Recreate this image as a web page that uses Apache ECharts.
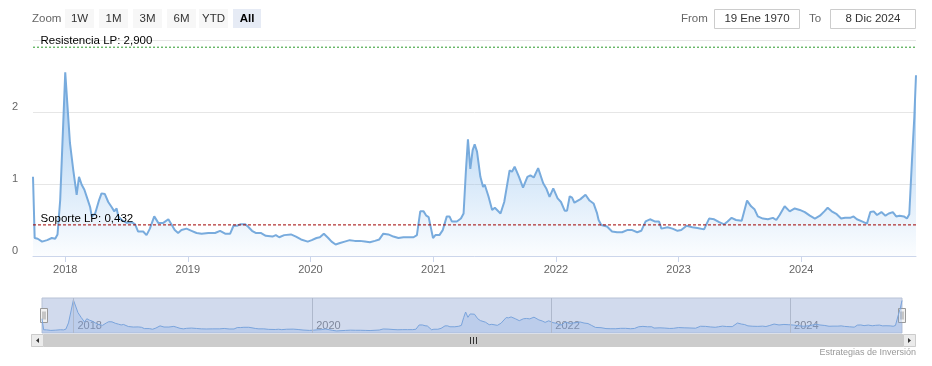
<!DOCTYPE html>
<html>
<head>
<meta charset="utf-8">
<script src="https://cdn.jsdelivr.net/npm/echarts@6/dist/echarts.min.js"></script>
<style>
html,body{margin:0;padding:0;background:#fff;}
#chart{width:932px;height:366px;}
</style>
</head>
<body>
<div id="chart"></div>
<script>
// ---- data ----
const dates = [
'2017-09-27','2017-10-02','2017-10-11','2017-10-24','2017-11-08','2017-11-22','2017-12-02','2017-12-09','2017-12-17',
'2018-01-01','2018-01-15','2018-01-25','2018-02-04','2018-02-11','2018-02-19','2018-02-27','2018-03-09','2018-03-16',
'2018-03-21','2018-03-31','2018-04-12','2018-04-19','2018-04-29','2018-05-09','2018-05-19','2018-05-27','2018-06-03',
'2018-06-08','2018-06-18','2018-07-03','2018-07-18','2018-07-28','2018-08-06','2018-08-21','2018-08-31','2018-09-10',
'2018-09-23','2018-10-05','2018-10-20','2018-11-04','2018-11-13','2018-11-23','2018-12-03','2018-12-13','2018-12-28',
'2019-01-12','2019-01-27','2019-02-11','2019-03-03','2019-03-23','2019-04-07','2019-04-22','2019-05-07','2019-05-17',
'2019-05-27','2019-06-06','2019-06-21','2019-07-01','2019-07-11','2019-07-22','2019-08-06','2019-08-21','2019-09-10',
'2019-09-20','2019-09-30','2019-10-15','2019-11-04','2019-11-19','2019-12-04','2019-12-24','2020-01-05','2020-01-19',
'2020-01-29','2020-02-10','2020-02-23','2020-03-04','2020-03-16','2020-03-29','2020-04-12','2020-04-27','2020-05-12',
'2020-05-27','2020-06-11','2020-06-26','2020-07-11','2020-07-24','2020-08-05','2020-08-20','2020-09-04','2020-09-19',
'2020-10-04','2020-10-19','2020-11-03','2020-11-13','2020-11-23','2020-12-03','2020-12-11','2020-12-18','2020-12-31',
'2021-01-07','2021-01-19','2021-01-29','2021-02-10','2021-02-18','2021-02-25','2021-03-12','2021-03-24','2021-04-01',
'2021-04-08','2021-04-14','2021-04-21','2021-04-28','2021-05-04','2021-05-11','2021-05-21','2021-05-29','2021-06-03',
'2021-06-14','2021-06-25','2021-07-03','2021-07-20','2021-07-31','2021-08-16','2021-08-23','2021-08-31','2021-09-13',
'2021-09-25','2021-10-08','2021-10-17','2021-10-27','2021-11-09','2021-11-24','2021-12-04','2021-12-13','2021-12-24',
'2022-01-06','2022-01-16','2022-01-27','2022-02-03','2022-02-11','2022-02-18','2022-02-25','2022-03-15','2022-03-30',
'2022-04-11','2022-04-23','2022-05-03','2022-05-08','2022-05-16','2022-06-02','2022-06-17','2022-07-02','2022-07-17',
'2022-08-01','2022-08-16','2022-08-31','2022-09-12','2022-09-25','2022-10-08','2022-10-22','2022-11-04','2022-11-11',
'2022-11-29','2022-12-14','2022-12-29','2023-01-09','2023-01-25','2023-02-11','2023-02-26','2023-03-18','2023-04-02',
'2023-04-17','2023-05-02','2023-05-17','2023-05-27','2023-06-08','2023-06-21','2023-07-08','2023-07-24','2023-08-05',
'2023-08-15','2023-08-25','2023-09-09','2023-09-24','2023-10-09','2023-10-19','2023-10-29','2023-11-13','2023-11-28',
'2023-12-13','2023-12-28','2024-01-12','2024-01-27','2024-02-11','2024-02-26','2024-03-10','2024-03-20','2024-04-01',
'2024-04-16','2024-04-29','2024-05-11','2024-05-26','2024-06-05','2024-06-15','2024-06-30','2024-07-15','2024-07-25',
'2024-08-04','2024-08-14','2024-08-27','2024-09-08','2024-09-18','2024-09-30','2024-10-10','2024-10-20','2024-11-02',
'2024-11-11','2024-11-18','2024-11-26','2024-12-03','2024-12-08'
];
const values = [
1.10,0.25,0.24,0.20,0.22,0.25,0.24,0.30,0.78,
2.55,1.57,1.19,0.85,1.10,0.99,0.92,0.78,0.68,
0.55,0.59,0.78,0.87,0.86,0.75,0.68,0.62,0.66,
0.55,0.50,0.46,0.47,0.44,0.34,0.34,0.29,0.38,
0.55,0.46,0.46,0.51,0.44,0.36,0.32,0.36,0.38,
0.35,0.32,0.31,0.32,0.32,0.35,0.31,0.31,0.42,
0.42,0.44,0.44,0.40,0.35,0.32,0.32,0.28,0.27,
0.29,0.26,0.29,0.30,0.27,0.23,0.20,0.22,0.25,
0.26,0.31,0.25,0.20,0.16,0.18,0.20,0.22,0.21,
0.21,0.20,0.19,0.21,0.23,0.31,0.30,0.27,0.25,
0.26,0.26,0.26,0.29,0.62,0.62,0.56,0.54,0.25,
0.29,0.29,0.36,0.55,0.55,0.48,0.48,0.52,0.59,
1.19,1.62,1.21,1.47,1.55,1.45,1.10,0.96,0.99,
0.83,0.64,0.67,0.59,0.75,1.19,1.17,1.24,1.10,
0.95,1.10,1.12,1.09,1.22,1.01,0.93,0.82,0.94,
0.80,0.75,0.63,0.63,0.83,0.81,0.74,0.79,0.85,
0.77,0.73,0.60,0.50,0.43,0.41,0.34,0.33,0.33,
0.36,0.36,0.33,0.35,0.48,0.51,0.48,0.48,0.38,
0.40,0.38,0.35,0.36,0.42,0.40,0.39,0.37,0.52,
0.51,0.47,0.44,0.48,0.53,0.50,0.49,0.77,0.69,
0.65,0.55,0.52,0.51,0.53,0.50,0.57,0.69,0.62,
0.66,0.64,0.61,0.56,0.52,0.56,0.62,0.67,0.62,
0.58,0.52,0.53,0.53,0.55,0.51,0.48,0.45,0.61,
0.62,0.57,0.61,0.56,0.59,0.61,0.55,0.56,0.55,
0.52,0.58,1.33,1.93,2.51
];
const yTicks = [0, 1, 2, 3];
const yLabelShown = ['0', '1', '2', ''];
const resistanceLevel = 2.9;
const supportLevel = 0.432;
const resistanceLabel = 'Resistencia LP: 2,900';
const supportLabel = 'Soporte LP: 0,432';
const navigatorGridYears = ['2018-01-01', '2020-01-01', '2022-01-01', '2024-01-01'];
const zoomButtons = ['1W', '1M', '3M', '6M', 'YTD', 'All'];
const fromText = '19 Ene 1970';
const toText = '8 Dic 2024';
const creditText = 'Estrategias de Inversión';

// ---- chart ----
const FONT = '"Liberation Sans", Arial, sans-serif';
const seriesData = dates.map((d, i) => [d, values[i]]);
const firstDate = dates[0];
const lastDate = dates[dates.length - 1];
const YEAR = 365.25 * 86400000;

const chart = echarts.init(document.getElementById('chart'), null, {renderer: 'canvas'});

const graphics = [];
graphics.push({type: 'text', x: 32, y: 18.5, style: {text: 'Zoom', fill: '#666', font: '11.5px ' + FONT, textVerticalAlign: 'middle'}});
const btnX = [65, 99, 133, 167, 199, 233];
zoomButtons.forEach((b, i) => {
  const sel = b === 'All';
  graphics.push({type: 'rect', shape: {x: btnX[i], y: 9, width: sel ? 28 : 29, height: 19, r: 0},
    style: {fill: sel ? '#e6ebf5' : '#f7f7f7'}});
  graphics.push({type: 'text', x: btnX[i] + (sel ? 14 : 14.5), y: 18.5,
    style: {text: b, fill: sel ? '#000' : '#333', font: (sel ? 'bold ' : '') + '11.5px ' + FONT,
      textAlign: 'center', textVerticalAlign: 'middle'}});
});
graphics.push({type: 'text', x: 681, y: 18.5, style: {text: 'From', fill: '#666', font: '11.5px ' + FONT, textVerticalAlign: 'middle'}});
graphics.push({type: 'rect', shape: {x: 714.5, y: 9.5, width: 85, height: 19}, style: {fill: '#fff', stroke: '#cccccc', lineWidth: 1}});
graphics.push({type: 'text', x: 757, y: 19, style: {text: fromText, fill: '#333', font: '11.5px ' + FONT, textAlign: 'center', textVerticalAlign: 'middle'}});
graphics.push({type: 'text', x: 809, y: 18.5, style: {text: 'To', fill: '#666', font: '11.5px ' + FONT, textVerticalAlign: 'middle'}});
graphics.push({type: 'rect', shape: {x: 830.5, y: 9.5, width: 85, height: 19}, style: {fill: '#fff', stroke: '#cccccc', lineWidth: 1}});
graphics.push({type: 'text', x: 873, y: 19, style: {text: toText, fill: '#333', font: '11.5px ' + FONT, textAlign: 'center', textVerticalAlign: 'middle'}});

// scrollbar
graphics.push({type: 'rect', shape: {x: 31, y: 334, width: 885, height: 13}, style: {fill: '#f2f2f2'}});
graphics.push({type: 'rect', shape: {x: 44, y: 334, width: 859, height: 13}, style: {fill: '#cccccc'}});
graphics.push({type: 'rect', shape: {x: 31.5, y: 334.5, width: 12, height: 12}, style: {fill: '#ebebeb', stroke: '#cccccc'}});
graphics.push({type: 'rect', shape: {x: 903.5, y: 334.5, width: 12, height: 12}, style: {fill: '#ebebeb', stroke: '#cccccc'}});
graphics.push({type: 'polygon', shape: {points: [[39, 338], [39, 343], [36, 340.5]]}, style: {fill: '#333'}});
graphics.push({type: 'polygon', shape: {points: [[908, 338], [908, 343], [911, 340.5]]}, style: {fill: '#333'}});
[470.5, 473.5, 476.5].forEach(x => graphics.push({type: 'line', shape: {x1: x, y1: 337, x2: x, y2: 344}, style: {stroke: '#333', lineWidth: 1}}));
// navigator handles
[[40.5, 308.5], [898.5, 308.5]].forEach(([x, y]) => {
  graphics.push({type: 'rect', shape: {x: x, y: y, width: 7, height: 14}, style: {fill: '#f2f2f2', stroke: '#999999', lineWidth: 1}});
  graphics.push({type: 'line', shape: {x1: x + 2.5, y1: y + 3, x2: x + 2.5, y2: y + 11}, style: {stroke: '#999999', lineWidth: 1}});
  graphics.push({type: 'line', shape: {x1: x + 4.5, y1: y + 3, x2: x + 4.5, y2: y + 11}, style: {stroke: '#999999', lineWidth: 1}});
});
graphics.push({type: 'text', right: 16, top: 348, style: {text: creditText, fill: '#999', font: '9px ' + FONT}});

const yearLabel = function (v) { const d = new Date(v); return (d.getMonth() === 0 && d.getDate() === 1) ? String(d.getFullYear()) : ''; };
const evenYearLabel = function (v) { const d = new Date(v); return (d.getMonth() === 0 && d.getDate() === 1 && d.getFullYear() % 2 === 0) ? String(d.getFullYear()) : ''; };

function levelSeries(level, text, color, dash) {
  return {
    type: 'line', xAxisIndex: 0, yAxisIndex: 0, silent: true, z: 3,
    symbol: 'circle', symbolSize: 1, showSymbol: true,
    itemStyle: {color: 'rgba(0,0,0,0)', borderWidth: 0},
    lineStyle: {color: color, type: dash, width: 1},
    labelLayout: {hideOverlap: false},
    data: [
      {value: [firstDate, level], label: {show: true, formatter: text, position: [8, -12], align: 'left', verticalAlign: 'top',
        color: '#000', fontSize: 11.5, fontFamily: FONT}},
      {value: [lastDate, level]}
    ]
  };
}

const option = {
  animation: false,
  backgroundColor: '#fff',
  textStyle: {fontFamily: FONT},
  grid: [
    {left: 33, right: 16, top: 40, height: 216},
    {left: 42, right: 30, top: 298, height: 35, show: true, backgroundColor: 'rgba(102,133,194,0.3)', borderColor: '#b8c2d6', borderWidth: 1}
  ],
  xAxis: [
    {
      type: 'time', gridIndex: 0, min: firstDate, max: lastDate,
      splitNumber: 7, minInterval: YEAR * 0.99, maxInterval: YEAR * 1.01,
      axisLine: {show: true, lineStyle: {color: '#ccd6eb', width: 1}},
      axisTick: {show: true, length: 6, lineStyle: {color: '#ccd6eb'}},
      splitLine: {show: false},
      axisLabel: {color: '#666', fontSize: 11, margin: 8, showMinLabel: false, showMaxLabel: false, formatter: yearLabel}
    },
    {
      type: 'time', gridIndex: 1, min: firstDate, max: lastDate,
      splitNumber: 7, minInterval: YEAR * 0.99, maxInterval: YEAR * 1.01,
      axisLine: {show: false}, axisTick: {show: false},
      splitLine: {show: false},
      axisLabel: {
        inside: true, color: '#7f889c', fontSize: 11, margin: 2, align: 'left', padding: [0, 0, 0, 4],
        showMinLabel: false, showMaxLabel: false, formatter: evenYearLabel
      }
    }
  ],
  yAxis: [
    {
      type: 'value', gridIndex: 0, min: yTicks[0], max: yTicks[yTicks.length - 1], interval: 1,
      axisLine: {show: false}, axisTick: {show: false},
      splitLine: {show: true, lineStyle: {color: '#e6e6e6', width: 1}},
      axisLabel: {
        color: '#666', fontSize: 11, align: 'left', margin: 21, verticalAlign: 'bottom',
        formatter: function (v) { const i = yTicks.indexOf(v); return i >= 0 ? yLabelShown[i] : ''; }
      }
    },
    {
      type: 'value', gridIndex: 1, min: 0, max: 2.7,
      axisLine: {show: false}, axisTick: {show: false}, axisLabel: {show: false}, splitLine: {show: false}
    }
  ],
  series: [
    {
      type: 'line', xAxisIndex: 0, yAxisIndex: 0, data: seriesData, showSymbol: false, smooth: false,
      lineStyle: {color: '#78abdd', width: 2},
      itemStyle: {color: '#78abdd'},
      areaStyle: {color: new echarts.graphic.LinearGradient(0, 0, 0, 1, [
        {offset: 0, color: 'rgba(124,181,236,1)'},
        {offset: 1, color: 'rgba(124,181,236,0.04)'}
      ])}
    },
    levelSeries(resistanceLevel, resistanceLabel, '#2a9a2a', [2, 2]),
    levelSeries(supportLevel, supportLabel, '#a00000', [3, 2]),
    {
      type: 'line', xAxisIndex: 1, yAxisIndex: 1, data: seriesData, showSymbol: false, smooth: false,
      lineStyle: {color: '#7aa4dc', width: 1},
      areaStyle: {color: 'rgba(124,165,230,0.35)'},
      silent: true,
      markLine: {
        silent: true, symbol: ['none', 'none'],
        lineStyle: {color: '#aeb8cc', type: 'solid', width: 1},
        label: {show: false},
        data: navigatorGridYears.map(d => ({xAxis: d}))
      }
    }
  ],
  graphic: graphics
};
chart.setOption(option);
</script>
</body>
</html>
